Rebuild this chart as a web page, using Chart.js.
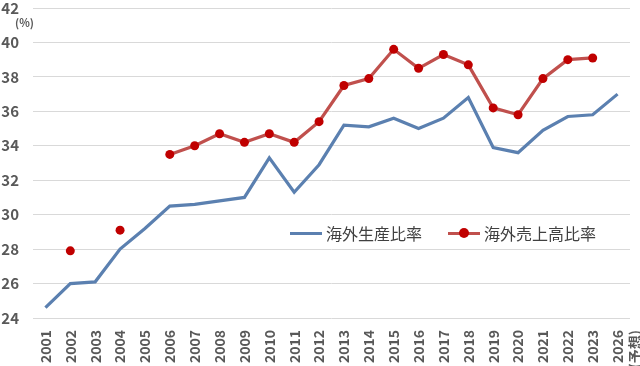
<!DOCTYPE html>
<html>
<head>
<meta charset="utf-8">
<script src="https://cdn.jsdelivr.net/npm/chart.js@4/dist/chart.umd.min.js"></script>
<style>
  html,body{margin:0;padding:0;background:#fff;}
  #wrap{position:relative;width:640px;height:366px;}
  #unit{position:absolute;left:15px;top:14px;font:bold 11px "Noto Sans CJK JP",sans-serif;color:#595959;}
  #legend{position:absolute;left:290px;top:221px;font:16px "Noto Sans CJK JP",sans-serif;color:#404040;display:flex;align-items:center;white-space:nowrap;}
  .item{display:flex;align-items:center;margin-right:26px;}
  .sw{position:relative;width:32px;height:3px;margin-right:4px;}
  .dot{position:absolute;left:11px;top:-3.5px;width:10px;height:10px;border-radius:50%;background:#c00000;}
</style>
</head>
<body>
<div id="wrap">
  <canvas id="c" width="640" height="366"></canvas>
  <div id="unit">(%)</div>
  <div id="legend">
    <div class="item"><div class="sw" style="background:#5b80b0"></div><span>海外生産比率</span></div>
    <div class="item"><div class="sw" style="background:#c0504d"><div class="dot"></div></div><span>海外売上高比率</span></div>
  </div>
</div>
<script>
const categories = ['2001','2002','2003','2004','2005','2006','2007','2008','2009','2010','2011','2012','2013','2014','2015','2016','2017','2018','2019','2020','2021','2022','2023',['2026','(予想)']];
const productionRatio = [24.6,26.0,26.1,28.0,29.2,30.5,30.6,30.8,31.0,33.3,31.3,32.9,35.2,35.1,35.6,35.0,35.6,36.8,33.9,33.6,34.9,35.7,35.8,37.0];
const salesRatio = [null,27.9,null,29.1,null,33.5,34.0,34.7,34.2,34.7,34.2,35.4,37.5,37.9,39.6,38.5,39.3,38.7,36.2,35.8,37.9,39.0,39.1,null];
const yTicks = [24,26,28,30,32,34,36,38,40,42];

new Chart(document.getElementById('c'), {
  type: 'line',
  data: {
    labels: categories,
    datasets: [
      {label:'海外生産比率', data: productionRatio, borderColor:'#5b80b0', backgroundColor:'#5b80b0', borderWidth:3.2, pointRadius:0, tension:0, spanGaps:false},
      {label:'海外売上高比率', data: salesRatio, borderColor:'#c0504d', backgroundColor:'#c00000', pointBackgroundColor:'#c00000', pointBorderColor:'#c00000', borderWidth:3.2, pointRadius:4.5, pointBorderWidth:0, tension:0, spanGaps:false}
    ]
  },
  options: {
    responsive:false,
    animation:false,
    layout:{padding:{top:8,right:10,left:0,bottom:0}},
    plugins:{legend:{display:false},tooltip:{enabled:false}},
    scales:{
      x:{
        offset:true,
        grid:{display:false},
        border:{display:false},
        ticks:{minRotation:90,maxRotation:90,autoSkip:false,color:'#595959',font:{family:'"Noto Sans CJK JP", sans-serif',size:14,weight:'bold'},padding:4},
        afterFit(s){s.height=48;s.paddingLeft=0;s.paddingRight=0;}
      },
      y:{
        min:24,max:42,
        afterBuildTicks(s){s.ticks = yTicks.map(v=>({value:v}));},
        grid:{color:'#d9d9d9',lineWidth:1,drawTicks:false},
        border:{display:false},
        ticks:{color:'#595959',font:{family:'"Noto Sans CJK JP", sans-serif',size:15,weight:'bold'},padding:14},
        afterFit(s){s.width=33;s.paddingTop=0;s.paddingBottom=0;}
      }
    }
  }
});
</script>
</body>
</html>
